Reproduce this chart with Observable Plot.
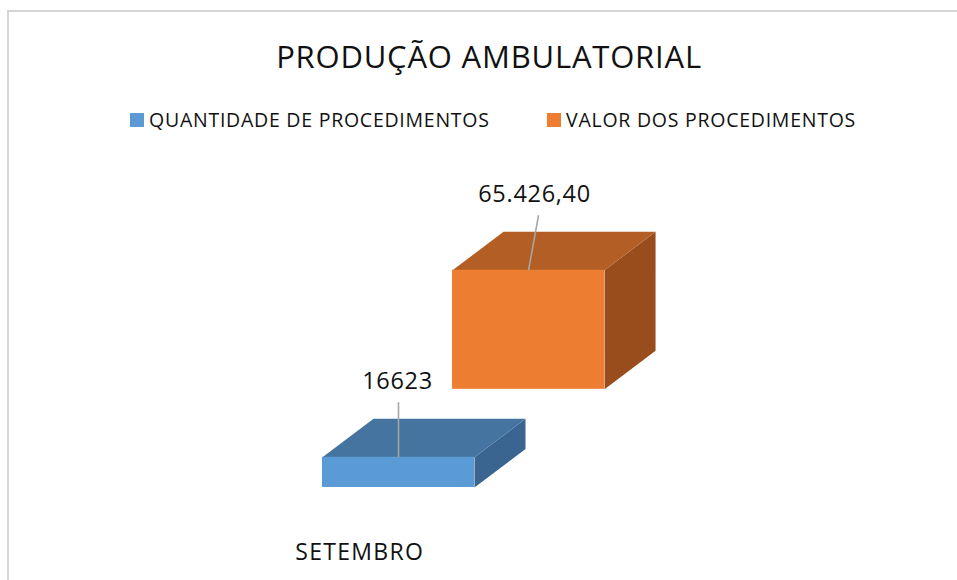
<!DOCTYPE html>
<html>
<head>
<meta charset="utf-8">
<script src="https://cdn.jsdelivr.net/npm/d3@7"></script>
<script src="https://cdn.jsdelivr.net/npm/@observablehq/plot@0.6"></script>
<style>
  html, body { margin: 0; padding: 0; background: #fff; }
  #chart { position: relative; width: 957px; height: 580px; overflow: hidden; background: #fff; font-family: "Open Sans", sans-serif; color: #111; }
  #frame { position: absolute; left: 7px; top: 10px; width: 1000px; height: 1000px; border-top: 2px solid #d6d6d6; border-left: 2px solid #d6d6d6; }
  #title { position: absolute; left: 0; top: 35px; width: 978px; text-align: center; font-size: 31px; letter-spacing: 0.8px; white-space: nowrap; }
  .leg { position: absolute; top: 106px; font-size: 19.5px; letter-spacing: 0.75px; white-space: nowrap; display: flex; align-items: center; }
  .sw { width: 13.5px; height: 13.5px; margin-right: 5.5px; margin-top: 1px; }
  #plot { position: absolute; left: 0; top: 150px; }
</style>
</head>
<body>
<div id="chart">
  <div id="frame"></div>
  <div id="title"></div>
  <div id="legend"></div>
  <div id="plot"></div>
</div>
<script>
// ---- data ----
const chartTitle = "PRODUÇÃO AMBULATORIAL";
const categories = ["SETEMBRO"];
const seriesNames = ["QUANTIDADE DE PROCEDIMENTOS", "VALOR DOS PROCEDIMENTOS"];
const values = [16623, 65426.40];
const valueLabels = ["16623", "65.426,40"];

// ---- styles ----
const frontColors = ["#5B9BD5", "#ED7D31"];
const topColors = ["#44749F", "#B35E24"];
const sideColors = ["#3A6590", "#994D1C"];
const legendLeft = [130, 547];
const labelDx = [-1, 6];     // px shift of value label
const leaderDx = [0, 10];    // px shift of leader line top

// ---- layout (pixels) ----
const W = 957, H = 430;
const X0 = 322, BAR_PX = 152;       // front face of the first series
const BASE_PX = 337, PX_PER_UNIT = 0.00182;
const DEPTH = [51, -38.5];          // 3D box depth offset, px
const GAP = 2.55;                   // series spacing, in box depths
const ux = px => px / BAR_PX;
const uy = px => -px / PX_PER_UNIT;
const ddx = ux(DEPTH[0]), ddy = uy(DEPTH[1]);

// header
document.getElementById("title").textContent = chartTitle;
const legend = document.getElementById("legend");
seriesNames.forEach((s, i) => {
  const d = document.createElement("div");
  d.className = "leg";
  d.style.left = legendLeft[i] + "px";
  d.innerHTML = `<div class="sw" style="background:${frontColors[i]}"></div><span></span>`;
  d.querySelector("span").textContent = s;
  legend.appendChild(d);
});

// geometry in data units
const fronts = [], polys = [], labels = [], leaders = [];
const order = seriesNames.map((_, i) => i).reverse(); // back series first
for (const i of order) {
  const v = values[i];
  const ox = i * GAP * ddx, oy = i * GAP * ddy;
  fronts.push({x1: ox, x2: ox + 1, y1: oy, y2: oy + v, fill: frontColors[i]});
  const side = [[ox + 1, oy], [ox + 1 + ddx, oy + ddy], [ox + 1 + ddx, oy + v + ddy], [ox + 1, oy + v]];
  const top = [[ox, oy + v], [ox + 1, oy + v], [ox + 1 + ddx, oy + v + ddy], [ox + ddx, oy + v + ddy]];
  side.forEach(([x, y]) => polys.push({x, y, face: "side" + i, fill: sideColors[i]}));
  top.forEach(([x, y]) => polys.push({x, y, face: "top" + i, fill: topColors[i]}));
  const ax = ox + 0.5, ay = oy + v;
  leaders.push({x1: ax, y1: ay, x2: ax + ux(leaderDx[i]), y2: ay + uy(-55)});
  labels.push({x: ax + ux(labelDx[i]), y: ay + uy(-75.5), text: valueLabels[i]});
}
const catLabels = categories.map((c, j) => ({x: j + 0.5 + ux(-38.8), y: 0, text: c}));

const yMax = 70000;
const plot = Plot.plot({
  width: W, height: H,
  marginTop: 0, marginRight: 0, marginBottom: 0, marginLeft: 0,
  x: {type: "linear", domain: [0, 1], range: [X0, X0 + BAR_PX], axis: null},
  y: {type: "linear", domain: [0, yMax], range: [BASE_PX, BASE_PX - yMax * PX_PER_UNIT], axis: null},
  color: {type: "identity"},
  style: {fontFamily: "Open Sans", color: "#111", background: "transparent", overflow: "visible"},
  marks: [
    Plot.line(polys.filter(d => d.face.endsWith("1")), {x: "x", y: "y", z: "face", fill: "fill", stroke: "none"}),
    Plot.rect(fronts.filter(d => d.fill === frontColors[1]), {x1: "x1", x2: "x2", y1: "y1", y2: "y2", fill: "fill"}),
    Plot.line(polys.filter(d => d.face.endsWith("0")), {x: "x", y: "y", z: "face", fill: "fill", stroke: "none"}),
    Plot.rect(fronts.filter(d => d.fill === frontColors[0]), {x1: "x1", x2: "x2", y1: "y1", y2: "y2", fill: "fill"}),
    Plot.link(leaders, {x1: "x1", y1: "y1", x2: "x2", y2: "y2", stroke: "#A6A6A6", strokeWidth: 1.6}),
    Plot.text(labels, {x: "x", y: "y", text: "text", fontSize: 23.5, fill: "#111"}),
    Plot.text(catLabels, {x: "x", y: "y", text: "text", fontSize: 23, dy: 65, fill: "#111"})
  ]
});
d3.select(plot).selectAll("text").each(function () {
  const t = this.textContent;
  if (categories.includes(t)) this.setAttribute("letter-spacing", "1.3");
  else if (valueLabels.includes(t)) this.setAttribute("letter-spacing", "0.7");
});
document.getElementById("plot").appendChild(plot);
</script>
</body>
</html>
